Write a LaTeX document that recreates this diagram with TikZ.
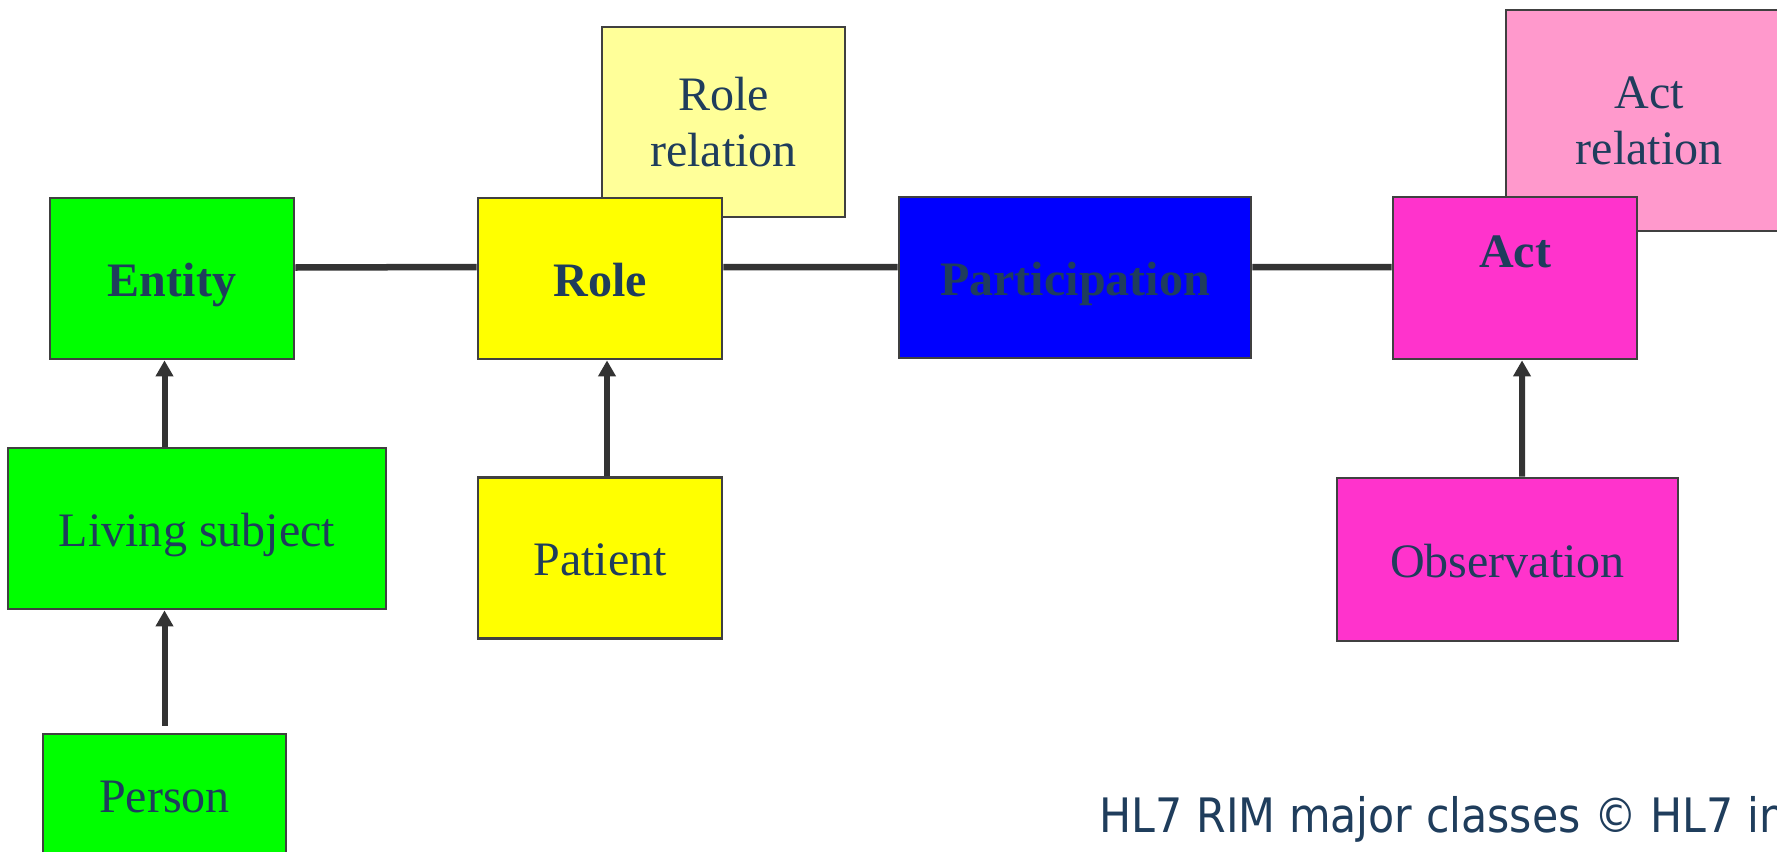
\documentclass[tikz,border=0pt]{standalone}
\usepackage{fontspec}
\setmainfont{Liberation Serif}
\newfontfamily\footfont[FakeStretch=0.9]{DejaVu Sans}
\usetikzlibrary{arrows.meta}
\definecolor{RIMText}{HTML}{1F3D5C}
\definecolor{RIMLine}{HTML}{333333}
\definecolor{RIMBorder}{HTML}{404040}
\definecolor{RIMGreen}{HTML}{00FF00}
\definecolor{RIMYellow}{HTML}{FFFF00}
\definecolor{RIMPale}{HTML}{FFFF99}
\definecolor{RIMBlue}{HTML}{0000FF}
\definecolor{RIMMagenta}{HTML}{FF33CC}
\definecolor{RIMPink}{HTML}{FF99CC}

\begin{document}
\begin{tikzpicture}[x=0.01cm, y=-0.01cm,
  arr/.style={-{Triangle[length=0.16cm, width=0.17cm]}, line width=0.06cm, draw=RIMLine},
  link/.style={line width=0.065cm, draw=RIMLine},
  cls/.style={rectangle, draw=RIMBorder, line width=0.027cm, text=RIMText,
              align=center, inner sep=0pt,
              font=\fontsize{13.66}{15.9}\selectfont},
  oneline/.style={text height=0.45cm, text depth=0.1cm},
  ent/.style={cls, oneline, fill=RIMGreen, minimum width=2.44cm, minimum height=1.61cm},
  rol/.style={cls, oneline, fill=RIMYellow, minimum width=2.44cm, minimum height=1.61cm},
  actcls/.style={cls, oneline, fill=RIMMagenta, minimum width=2.44cm, minimum height=1.62cm},
  rel/.style={cls, minimum width=2.43cm, minimum height=1.9cm},
  foot/.style={text=RIMText, font=\footfont\fontsize{13.5}{16}\selectfont, inner sep=0pt}
]
\clip (0,0) rectangle (1777,851);

% entity side
\node[ent] (entity) at (172,278.5) {\textbf{Entity}};
\node[ent, minimum width=3.78cm] (living) at (197,528.5) {Living subject};
\node[ent, minimum width=2.43cm, minimum height=1.22cm] (person) at (164.5,795) {Person};

% role side
\node[rel, fill=RIMPale] (rolerel) at (723.5,122) {Role\\relation};
\node[rol] (role) at (600,278.5) {\textbf{Role}};
\node[rol] (patient) at (600,558) {Patient};

\node[cls, oneline, fill=RIMBlue, minimum width=3.52cm, minimum height=1.61cm] (part) at (1075,277.5) {\textbf{Participation}};

% act side
\node[rel, fill=RIMPink, minimum width=2.86cm, minimum height=2.21cm] (actrel) at (1649,120.5) {Act\\relation};
\node[actcls] (act) at (1515,278) {\raisebox{0.28cm}{\textbf{Act}}};
\node[actcls, minimum width=3.41cm, minimum height=1.63cm] (obs) at (1507.5,559.5) {Observation};

\node[foot, anchor=base west] (credit) at (1099,832) {HL7 RIM major classes © HL7 in};

\draw[link] ([yshift=0.11cm]entity.east) -- ([yshift=0.115cm]role.west);
\draw[link] ([yshift=0.115cm]role.east) -- ([yshift=0.105cm]part.west);
\draw[link] ([yshift=0.105cm]part.east) -- ([yshift=0.11cm]act.west);

\draw[arr, shorten <=0.07cm] (person.north) -- (living.south -| person.north);
\draw[arr] (living.north -| person.north) -- (entity.south -| person.north);
\draw[arr] ([xshift=0.07cm]patient.north) -- ([xshift=0.07cm]role.south);
\draw[arr] ([xshift=0.145cm]obs.north) -- ([xshift=0.07cm]act.south);
\end{tikzpicture}
\end{document}
